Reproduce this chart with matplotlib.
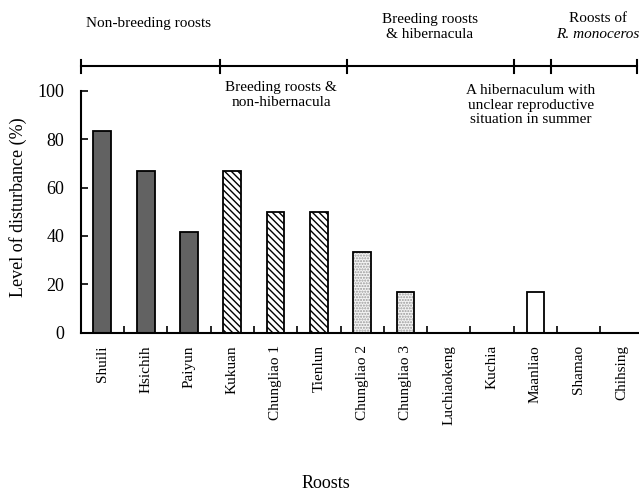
import numpy as np
import matplotlib
matplotlib.use("Agg")
import matplotlib.pyplot as plt

plt.rcParams['font.family'] = ['Liberation Serif', 'DejaVu Serif']
plt.rcParams['hatch.linewidth'] = 1.0

# data
roosts = ['Shuili', 'Hsichih', 'Paiyun', 'Kukuan', 'Chungliao 1', 'Tienlun',
          'Chungliao 2', 'Chungliao 3', 'Luchiaokeng', 'Kuchia', 'Maanliao',
          'Shamao', 'Chihsing']
disturbance = [83.3, 66.7, 41.7, 66.7, 50.0, 50.0, 33.3, 16.7, 0, 0, 16.7, 0, 0]
# roost group of each bar: 0 non-breeding, 1 breeding/non-hibernacula,
# 2 breeding/hibernacula, 3 unclear hibernaculum, 4 R. monoceros
group = [0, 0, 0, 1, 1, 1, 2, 2, 2, 2, 3, 4, 4]
yticks = [0, 20, 40, 60, 80, 100]

W, H = 639, 491
fig = plt.figure(figsize=(W / 100, H / 100), dpi=100)
ax = fig.add_axes([80.7 / W, (H - 332.7) / H, 563 / W, 242 / H])

x = np.arange(len(roosts)) + 0.5
bw = 0.41
for xi, v, g in zip(x, disturbance, group):
    if g == 0:
        ax.bar(xi, v, bw, color='#626262', edgecolor='black', linewidth=1.3)
    elif g == 1:
        ax.bar(xi, v, bw, color='white', edgecolor='black', hatch='\\\\\\\\\\',
               linewidth=1.3)
    elif g == 2:
        ax.bar(xi, v, bw, color='#f4f4f4', edgecolor='#9a9a9a', hatch='......',
               linewidth=0)
        ax.bar(xi, v, bw, fill=False, edgecolor='black', linewidth=1.3)
    else:
        ax.bar(xi, v, bw, color='white', edgecolor='black', linewidth=1.3)

ax.set_xlim(0, len(roosts))
ax.set_ylim(0, 100)
ax.set_yticks(yticks)
ax.set_xticks(x)
ax.set_xticklabels(roosts, rotation=90, fontsize=11, va='top')
ax.set_xticks(np.arange(1, len(roosts)), minor=True)
ax.tick_params(axis='x', which='major', length=0, pad=9)
ax.tick_params(axis='x', which='minor', direction='in', length=5, width=1.2)
ax.tick_params(axis='y', direction='in', length=5, width=1.2, labelsize=13, pad=12)
for s in ['top', 'right']:
    ax.spines[s].set_visible(False)
for s in ['left', 'bottom']:
    ax.spines[s].set_linewidth(1.5)

fig.text(18 / W, 1 - 207 / H, 'Level of disturbance (%)', rotation=90,
         ha='center', va='center', fontsize=13)
fig.text(326 / W, 1 - 483 / H, 'Roosts', ha='center', va='center', fontsize=13)

# group bracket above the plot
bounds = [0, 3.22, 6.16, 10.0, 10.86, 12.85]
tr = ax.get_xaxis_transform()
ax.plot([bounds[0], bounds[-1]], [1.103, 1.103], color='black', lw=1.5,
        transform=tr, clip_on=False)
for b in bounds:
    ax.plot([b, b], [1.075, 1.128], color='black', lw=1.5, transform=tr,
            clip_on=False)

def ftext(px, py, s, **kw):
    fig.text(px / W, 1 - py / H, s, fontsize=11, linespacing=1.15, **kw)

ftext(149, 24, 'Non-breeding roosts', ha='center', va='center')
ftext(281, 95, 'Breeding roosts &\nnon-hibernacula', ha='center', va='center')
ftext(430, 27, 'Breeding roosts\n& hibernacula', ha='center', va='center')
ftext(531, 105, 'A hibernaculum with\nunclear reproductive\nsituation in summer',
      ha='center', va='center')
ftext(598, 19, 'Roosts of', ha='center', va='center')
ftext(556, 35, 'R. monoceros', ha='left', va='center', style='italic')

fig.savefig('out.png', dpi=100)
